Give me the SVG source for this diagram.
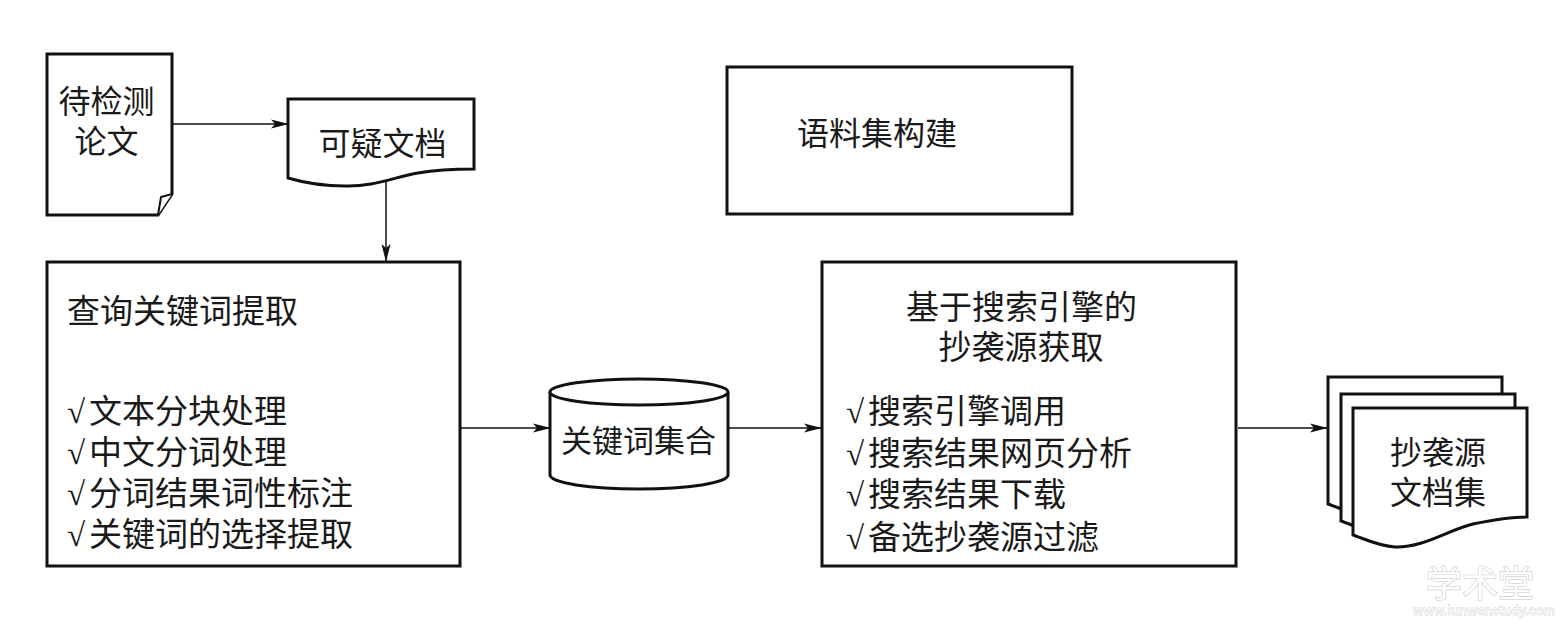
<svg xmlns="http://www.w3.org/2000/svg" width="1566" height="631" viewBox="0 0 1566 631">
<style>
.shape{fill:#fff;stroke:#111;stroke-width:3;stroke-linejoin:miter}
.conn{fill:none;stroke:#111;stroke-width:1.5}
.t{font-family:"Noto Sans CJK SC","Noto Sans CJK TC",sans-serif;font-size:32px;fill:#1a1a1a}
.c{text-anchor:middle}
.ck{font-family:"Liberation Serif","DejaVu Serif",serif}
.wm{font-family:"Noto Sans CJK SC",sans-serif;fill:#fff;stroke:#c8c8c8;stroke-width:1.2;paint-order:stroke}
</style>
<defs>
<marker id="arr" viewBox="0 0 18 10" refX="17" refY="5" markerWidth="18" markerHeight="10" markerUnits="userSpaceOnUse" orient="auto">
<path d="M0,0.5 L18,5 L0,9.5 L4,5 Z" fill="#111"/>
</marker>
<path id="docsheet" d="M0,0 H174 V109 C160,109 140,112 120,116 C95,122 70,140 42,139 C25,138 12,131 0,127 Z"/>
</defs>
<rect width="1566" height="631" fill="#fff"/>

<g id="connectors">
<line class="conn" x1="173" y1="124" x2="288" y2="124" marker-end="url(#arr)"/>
<line class="conn" x1="386" y1="182" x2="386" y2="261" marker-end="url(#arr)"/>
<line class="conn" x1="461" y1="428" x2="550" y2="428" marker-end="url(#arr)"/>
<line class="conn" x1="729" y1="428" x2="821" y2="428" marker-end="url(#arr)"/>
<line class="conn" x1="1238" y1="428" x2="1327" y2="428" marker-end="url(#arr)"/>
</g>

<g id="node-paper">
<path class="shape" d="M47,54 H172 V194 L158,215 H47 Z"/>
<path class="shape" d="M172,194 L161,197 L158,215" style="stroke-width:2"/>
<text class="t c" x="106.5" y="113">待检测</text>
<text class="t c" x="106.5" y="153">论文</text>
</g>

<g id="node-suspect">
<path class="shape" d="M288,99 H474 V169 C455,169 435,170 418,173 C395,177 372,187 345,186 C322,186 305,183 288,178 Z"/>
<text class="t c" x="382.5" y="154.5">可疑文档</text>
</g>

<g id="node-corpus">
<rect class="shape" x="727" y="67" width="345" height="147"/>
<text class="t" x="797" y="144.5">语料集构建</text>
</g>

<g id="node-keyword-extract">
<rect class="shape" x="47" y="262" width="413" height="304"/>
<text class="t" x="67" y="322.5" style="font-size:33px">查询关键词提取</text>
<text class="t" y="423" style="font-size:33px"><tspan class="ck" x="67">√</tspan><tspan x="89">文本分块处理</tspan></text>
<text class="t" y="464" style="font-size:33px"><tspan class="ck" x="67">√</tspan><tspan x="89">中文分词处理</tspan></text>
<text class="t" y="505" style="font-size:33px"><tspan class="ck" x="67">√</tspan><tspan x="89">分词结果词性标注</tspan></text>
<text class="t" y="546" style="font-size:33px"><tspan class="ck" x="67">√</tspan><tspan x="89">关键词的选择提取</tspan></text>
</g>

<g id="node-keyword-set">
<path class="shape" d="M550,392 V475 A89,14 0 0 0 728,475 V392"/>
<ellipse class="shape" cx="639" cy="392" rx="89" ry="13"/>
<text class="t c" x="638.5" y="452" style="font-size:31px">关键词集合</text>
</g>

<g id="node-source-fetch">
<rect class="shape" x="822" y="262" width="414" height="304"/>
<text class="t c" x="1021.5" y="318.5" style="font-size:33px">基于搜索引擎的</text>
<text class="t c" x="1021" y="359" style="font-size:33px">抄袭源获取</text>
<text class="t" y="423" style="font-size:33px"><tspan class="ck" x="846">√</tspan><tspan x="868">搜索引擎调用</tspan></text>
<text class="t" y="465" style="font-size:33px"><tspan class="ck" x="846">√</tspan><tspan x="868">搜索结果网页分析</tspan></text>
<text class="t" y="506" style="font-size:33px"><tspan class="ck" x="846">√</tspan><tspan x="868">搜索结果下载</tspan></text>
<text class="t" y="549" style="font-size:33px"><tspan class="ck" x="846">√</tspan><tspan x="868">备选抄袭源过滤</tspan></text>
</g>

<g id="node-source-docs">
<use href="#docsheet" class="shape" x="1328" y="377"/>
<use href="#docsheet" class="shape" x="1341" y="394"/>
<use href="#docsheet" class="shape" x="1353" y="408"/>
<text class="t c" x="1438" y="464">抄袭源</text>
<text class="t c" x="1438" y="504">文档集</text>
</g>

<g id="watermark">
<text class="wm" x="1480" y="597" text-anchor="middle" style="font-size:36px">学术堂</text>
<text class="wm" x="1484" y="615" text-anchor="middle" style="font-size:13px;stroke-width:0.8">www.lunwenstudy.com</text>
</g>
</svg>
